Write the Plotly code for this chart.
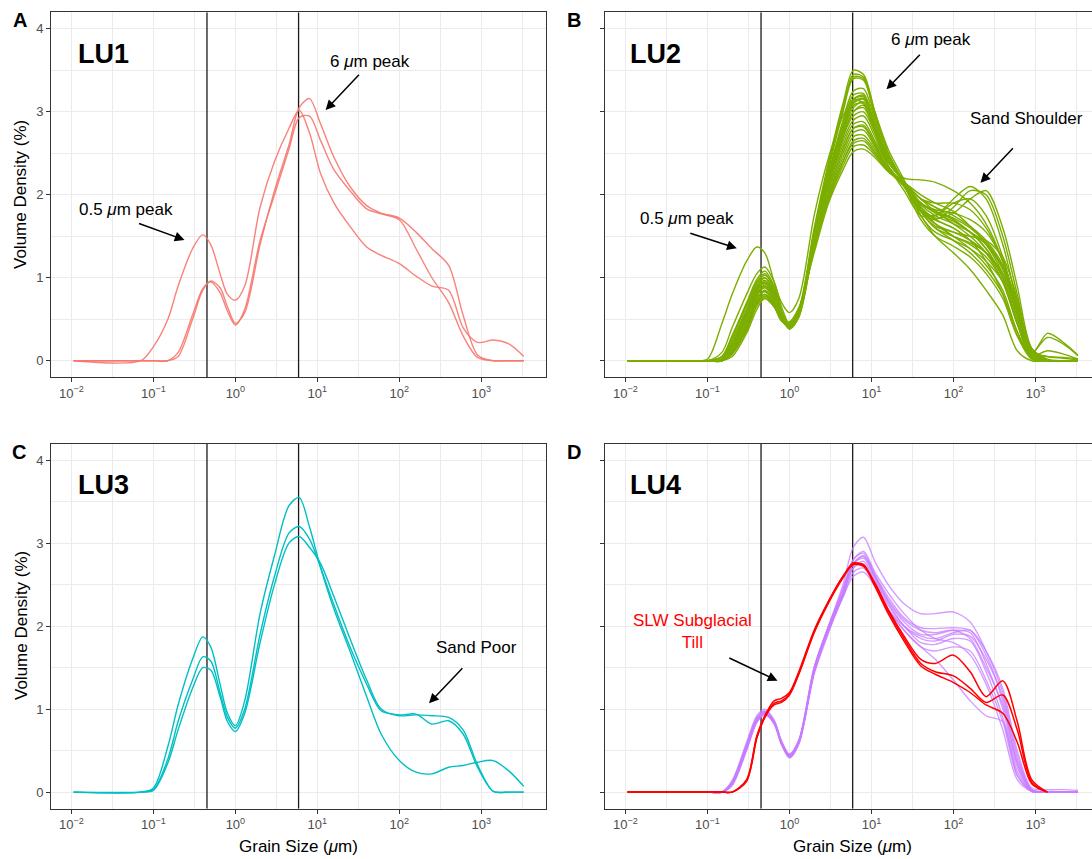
import plotly.graph_objects as go

# ---------------- data ----------------
grain_size = [0.0106, 0.07, 0.1, 0.15, 0.2, 0.3, 0.4, 0.5, 0.65, 0.8, 1.0, 1.3, 2, 3, 4.5, 6, 8, 11,
              16, 25, 40, 60, 100, 160, 250, 400, 600, 900, 1400, 2200, 3300]

lu1_curves = [
    [0, 0, 0.17, 0.5, 0.9, 1.35, 1.52, 1.4, 1.05, 0.8, 0.73, 0.9, 1.85, 2.4, 2.8, 3.02, 2.75, 2.25, 1.9, 1.62, 1.37, 1.27, 1.17, 1.02, 0.9, 0.85, 0.4, 0.22, 0.25, 0.2, 0.05],
    [0, 0, 0, 0, 0.05, 0.5, 0.85, 0.96, 0.88, 0.65, 0.45, 0.58, 1.4, 2.05, 2.6, 3.05, 3.16, 2.85, 2.45, 2.1, 1.87, 1.78, 1.72, 1.55, 1.35, 1.15, 0.55, 0.07, 0, 0, 0],
    [0, 0, 0, 0, 0.1, 0.55, 0.87, 0.95, 0.82, 0.6, 0.43, 0.62, 1.45, 2.0, 2.55, 2.93, 2.95, 2.65, 2.3, 2.05, 1.83, 1.77, 1.7, 1.35, 1.0, 0.7, 0.3, 0.04, 0, 0, 0],
]

lu2_curves = [
    [0, 0, 0.02, 0.45, 0.8, 1.2, 1.37, 1.3, 0.95, 0.7, 0.58, 0.75, 1.75, 2.45, 2.95, 3.15, 3.1, 2.8, 2.45, 2.15, 1.95, 1.85, 1.75, 1.62, 1.45, 1.15, 0.55, 0.05, 0, 0, 0],
    [0, 0, 0, 0.1, 0.4, 0.8, 1.05, 1.13, 0.95, 0.65, 0.45, 0.62, 1.6, 2.4, 3.1, 3.5, 3.45, 3.0, 2.5, 2.15, 1.85, 1.7, 1.6, 1.45, 1.3, 1.05, 0.55, 0.05, 0, 0, 0],
    [0, 0, 0, 0.05, 0.3, 0.7, 0.98, 1.08, 0.9, 0.6, 0.42, 0.58, 1.55, 2.35, 3.05, 3.45, 3.42, 3.0, 2.55, 2.18, 1.75, 1.55, 1.45, 1.35, 1.2, 0.95, 0.45, 0.03, 0, 0, 0],
    [0, 0, 0, 0.05, 0.3, 0.68, 0.95, 1.05, 0.88, 0.6, 0.41, 0.57, 1.5, 2.3, 3.0, 3.4, 3.38, 2.95, 2.5, 2.12, 1.7, 1.5, 1.38, 1.25, 1.05, 0.75, 0.3, 0.08, 0.33, 0.22, 0.07],
    [0, 0, 0, 0, 0.2, 0.6, 0.88, 0.97, 0.82, 0.55, 0.4, 0.55, 1.5, 2.25, 2.85, 3.2, 3.22, 2.85, 2.45, 2.15, 1.9, 1.8, 1.72, 1.6, 1.42, 1.12, 0.6, 0.08, 0, 0, 0],
    [0, 0, 0, 0, 0.18, 0.55, 0.85, 0.95, 0.8, 0.55, 0.4, 0.55, 1.45, 2.2, 2.8, 3.15, 3.18, 2.8, 2.35, 2.05, 1.75, 1.75, 1.95, 2.1, 1.95, 1.4, 0.7, 0.1, 0, 0, 0],
    [0, 0, 0, 0, 0.2, 0.58, 0.85, 0.93, 0.78, 0.52, 0.38, 0.52, 1.4, 2.15, 2.75, 3.08, 3.1, 2.75, 2.35, 2.1, 1.8, 1.7, 1.85, 2.05, 2.0, 1.5, 0.8, 0.12, 0, 0, 0],
    [0, 0, 0, 0, 0.15, 0.5, 0.8, 0.9, 0.76, 0.52, 0.39, 0.53, 1.4, 2.1, 2.7, 3.0, 3.05, 2.75, 2.4, 2.2, 2.18, 2.15, 2.05, 1.9, 1.65, 1.2, 0.6, 0.08, 0, 0, 0],
    [0, 0, 0, 0, 0.15, 0.5, 0.78, 0.88, 0.74, 0.5, 0.4, 0.55, 1.4, 2.1, 2.65, 2.9, 2.95, 2.7, 2.35, 2.12, 1.85, 1.65, 1.5, 1.35, 1.15, 0.85, 0.35, 0.03, 0, 0, 0],
    [0, 0, 0, 0, 0.12, 0.45, 0.75, 0.85, 0.72, 0.5, 0.41, 0.57, 1.45, 2.1, 2.6, 2.85, 2.88, 2.65, 2.35, 2.1, 1.8, 1.6, 1.45, 1.3, 1.1, 0.8, 0.35, 0.06, 0.12, 0.08, 0.02],
    [0, 0, 0, 0, 0.12, 0.45, 0.75, 0.83, 0.7, 0.49, 0.41, 0.57, 1.42, 2.05, 2.55, 2.8, 2.82, 2.6, 2.3, 2.1, 1.8, 1.75, 1.9, 1.95, 1.75, 1.25, 0.6, 0.1, 0, 0, 0],
    [0, 0, 0, 0, 0.1, 0.42, 0.72, 0.8, 0.68, 0.48, 0.42, 0.58, 1.4, 2.0, 2.5, 2.75, 2.78, 2.58, 2.3, 2.15, 1.95, 1.8, 1.65, 1.5, 1.3, 0.95, 0.45, 0.05, 0, 0, 0],
    [0, 0, 0, 0, 0.1, 0.4, 0.7, 0.8, 0.68, 0.48, 0.43, 0.6, 1.38, 1.98, 2.45, 2.7, 2.72, 2.55, 2.3, 2.12, 1.85, 1.7, 1.6, 1.45, 1.2, 0.8, 0.3, 0.02, 0, 0, 0],
    [0, 0, 0, 0, 0.08, 0.38, 0.68, 0.78, 0.66, 0.48, 0.44, 0.6, 1.35, 1.95, 2.4, 2.65, 2.68, 2.52, 2.3, 2.1, 1.75, 1.5, 1.3, 1.1, 0.85, 0.55, 0.12, 0, 0, 0, 0],
    [0, 0, 0, 0, 0.08, 0.36, 0.66, 0.76, 0.65, 0.48, 0.45, 0.62, 1.35, 1.93, 2.35, 2.58, 2.6, 2.48, 2.28, 2.12, 1.95, 1.85, 1.7, 1.55, 1.35, 1.0, 0.5, 0.08, 0, 0, 0],
    [0, 0, 0, 0, 0.05, 0.33, 0.62, 0.75, 0.65, 0.5, 0.47, 0.64, 1.3, 1.9, 2.3, 2.52, 2.55, 2.45, 2.28, 2.15, 2.0, 1.9, 1.8, 1.62, 1.4, 1.05, 0.55, 0.1, 0.05, 0.04, 0.02],
    [0, 0, 0, 0.03, 0.25, 0.62, 0.9, 1.0, 0.85, 0.57, 0.4, 0.56, 1.5, 2.25, 2.85, 3.15, 3.2, 2.85, 2.45, 2.15, 1.85, 1.65, 1.5, 1.4, 1.25, 0.95, 0.45, 0.1, 0.28, 0.2, 0.06],
    [0, 0, 0, 0, 0.18, 0.55, 0.82, 0.9, 0.76, 0.52, 0.39, 0.54, 1.45, 2.2, 2.75, 3.05, 3.12, 2.8, 2.4, 2.15, 1.85, 1.72, 1.78, 1.95, 2.05, 1.6, 0.9, 0.15, 0, 0, 0],
    [0, 0, 0, 0, 0.15, 0.5, 0.8, 0.9, 0.76, 0.52, 0.4, 0.56, 1.45, 2.15, 2.7, 2.95, 3.0, 2.75, 2.4, 2.15, 1.9, 1.8, 1.7, 1.55, 1.4, 1.1, 0.65, 0.12, 0, 0, 0],
    [0, 0, 0, 0.05, 0.28, 0.66, 0.93, 1.03, 0.88, 0.6, 0.43, 0.6, 1.55, 2.35, 3.05, 3.42, 3.4, 2.95, 2.5, 2.15, 1.8, 1.62, 1.55, 1.45, 1.3, 1.0, 0.45, 0.05, 0, 0, 0],
    [0, 0, 0, 0, 0.2, 0.6, 0.87, 0.95, 0.8, 0.54, 0.4, 0.56, 1.5, 2.25, 2.8, 3.1, 3.15, 2.85, 2.45, 2.15, 1.8, 1.6, 1.5, 1.42, 1.3, 1.05, 0.6, 0.1, 0, 0, 0],
    [0, 0, 0, 0, 0.1, 0.4, 0.7, 0.8, 0.68, 0.5, 0.44, 0.6, 1.35, 1.95, 2.4, 2.62, 2.65, 2.5, 2.3, 2.15, 1.95, 1.9, 1.9, 1.82, 1.6, 1.2, 0.7, 0.15, 0.02, 0, 0],
    [0, 0, 0, 0, 0.15, 0.52, 0.8, 0.9, 0.77, 0.53, 0.41, 0.57, 1.45, 2.15, 2.7, 3.0, 3.08, 2.8, 2.4, 2.15, 1.88, 1.75, 1.65, 1.55, 1.42, 1.12, 0.55, 0.06, 0, 0, 0],
    [0, 0, 0, 0.02, 0.22, 0.6, 0.9, 1.0, 0.84, 0.57, 0.41, 0.57, 1.5, 2.25, 2.9, 3.25, 3.28, 2.9, 2.45, 2.15, 1.9, 1.78, 1.68, 1.55, 1.35, 1.0, 0.45, 0.04, 0, 0, 0],
    [0, 0, 0, 0, 0.12, 0.45, 0.74, 0.84, 0.71, 0.5, 0.42, 0.58, 1.42, 2.05, 2.55, 2.8, 2.84, 2.62, 2.32, 2.12, 1.9, 1.82, 1.78, 1.7, 1.55, 1.2, 0.65, 0.12, 0, 0, 0],
    [0, 0, 0, 0, 0.18, 0.56, 0.84, 0.93, 0.79, 0.54, 0.4, 0.55, 1.47, 2.2, 2.78, 3.12, 3.16, 2.82, 2.42, 2.15, 1.82, 1.65, 1.55, 1.5, 1.45, 1.25, 0.75, 0.12, 0.05, 0.03, 0.01],
]

lu3_curves = [
    [0, 0, 0.05, 0.55, 1.05, 1.6, 1.87, 1.75, 1.3, 0.95, 0.8, 1.1, 2.15, 2.85, 3.45, 3.55, 3.2, 2.7, 2.2, 1.7, 1.15, 0.7, 0.38, 0.24, 0.22, 0.3, 0.32, 0.36, 0.38, 0.25, 0.07],
    [0, 0, 0.03, 0.4, 0.85, 1.35, 1.63, 1.58, 1.2, 0.9, 0.77, 1.0, 1.9, 2.6, 3.12, 3.2, 3.05, 2.7, 2.25, 1.75, 1.3, 0.98, 0.93, 0.94, 0.82, 0.86, 0.7, 0.3, 0.01, 0, 0],
    [0, 0, 0.02, 0.35, 0.75, 1.25, 1.5, 1.47, 1.15, 0.85, 0.73, 0.95, 1.8, 2.5, 3.0, 3.08, 2.95, 2.75, 2.35, 1.85, 1.35, 1.0, 0.92, 0.93, 0.92, 0.9, 0.75, 0.33, 0.01, 0, 0],
]

lu4_curves = [
    [0, 0, 0, 0, 0.1, 0.52, 0.85, 0.95, 0.85, 0.6, 0.45, 0.62, 1.45, 2.0, 2.5, 2.95, 3.07, 2.78, 2.5, 2.27, 2.15, 2.15, 2.17, 2.05, 1.7, 1.2, 0.45, 0.03, 0, 0, 0],
    [0, 0, 0, 0, 0.12, 0.56, 0.88, 0.97, 0.85, 0.6, 0.44, 0.6, 1.5, 2.0, 2.45, 2.8, 2.88, 2.62, 2.35, 2.1, 1.98, 1.97, 1.98, 1.95, 1.65, 1.1, 0.35, 0.02, 0, 0, 0],
    [0, 0, 0, 0, 0.1, 0.54, 0.86, 0.95, 0.83, 0.58, 0.42, 0.58, 1.45, 1.95, 2.4, 2.75, 2.85, 2.6, 2.3, 2.05, 1.9, 1.9, 1.95, 1.92, 1.55, 1.0, 0.3, 0.02, 0, 0, 0],
    [0, 0, 0, 0, 0.12, 0.58, 0.9, 0.98, 0.85, 0.6, 0.45, 0.62, 1.5, 2.0, 2.4, 2.75, 2.82, 2.58, 2.28, 2.0, 1.85, 1.82, 1.9, 1.88, 1.6, 1.15, 0.4, 0.03, 0, 0, 0],
    [0, 0, 0, 0, 0.08, 0.5, 0.84, 0.93, 0.82, 0.57, 0.43, 0.6, 1.45, 1.95, 2.38, 2.7, 2.78, 2.55, 2.25, 2.0, 1.8, 1.78, 1.85, 1.82, 1.45, 0.9, 0.25, 0.01, 0, 0, 0],
    [0, 0, 0, 0, 0.14, 0.6, 0.92, 1.0, 0.87, 0.62, 0.46, 0.63, 1.5, 1.98, 2.4, 2.7, 2.75, 2.52, 2.2, 1.95, 1.75, 1.7, 1.75, 1.7, 1.35, 0.85, 0.2, 0.01, 0, 0, 0],
    [0, 0, 0, 0, 0.1, 0.54, 0.86, 0.95, 0.83, 0.58, 0.42, 0.6, 1.45, 1.95, 2.35, 2.65, 2.7, 2.5, 2.2, 1.95, 1.75, 1.6, 1.35, 1.1, 0.92, 0.85, 0.2, 0.01, 0, 0, 0],
    [0, 0, 0, 0, 0.12, 0.56, 0.88, 0.96, 0.84, 0.6, 0.44, 0.6, 1.45, 1.95, 2.35, 2.6, 2.65, 2.48, 2.2, 2.0, 1.88, 1.85, 1.92, 1.95, 1.7, 1.25, 0.5, 0.05, 0.03, 0.03, 0.02],
    [0, 0, 0, 0, 0.09, 0.52, 0.85, 0.94, 0.83, 0.58, 0.41, 0.58, 1.42, 1.92, 2.38, 2.75, 2.84, 2.6, 2.32, 2.08, 1.95, 1.92, 1.95, 1.85, 1.5, 1.05, 0.35, 0.02, 0, 0, 0],
    [0, 0, 0, 0, 0.11, 0.56, 0.88, 0.97, 0.85, 0.6, 0.43, 0.6, 1.48, 2.0, 2.45, 2.8, 2.9, 2.65, 2.4, 2.15, 1.95, 1.85, 1.8, 1.65, 1.3, 0.75, 0.15, 0.01, 0, 0, 0],
]

till_curves = [
    [0, 0, 0, 0, 0, 0.15, 0.68, 0.92, 1.1, 1.13, 1.2, 1.45, 1.95, 2.3, 2.6, 2.74, 2.72, 2.52, 2.2, 1.88, 1.6, 1.55, 1.65, 1.45, 1.15, 1.34, 0.85, 0.15, 0, None, None],
    [0, 0, 0, 0, 0, 0.13, 0.65, 0.9, 1.05, 1.08, 1.17, 1.42, 1.92, 2.28, 2.58, 2.75, 2.74, 2.5, 2.18, 1.85, 1.55, 1.45, 1.4, 1.25, 1.08, 1.17, 0.75, 0.12, 0, None, None],
    [0, 0, 0, 0, 0, 0.14, 0.66, 0.9, 1.07, 1.1, 1.18, 1.43, 1.93, 2.3, 2.6, 2.76, 2.73, 2.48, 2.15, 1.82, 1.52, 1.42, 1.32, 1.2, 1.05, 0.95, 0.6, 0.1, 0, None, None],
]

peak_lines = [0.45, 5.9]
x_ticks = [0.01, 0.1, 1, 10, 100, 1000]
x_ticktext = ["10<sup>\u22122</sup>", "10<sup>\u22121</sup>", "10<sup>0</sup>",
              "10<sup>1</sup>", "10<sup>2</sup>", "10<sup>3</sup>"]
x_minor = [0.0316, 0.316, 3.16, 31.6, 316, 3162]
y_ticks = [0, 1, 2, 3, 4]
y_minor = [0.5, 1.5, 2.5, 3.5]

# ---------------- figure ----------------
W, H = 1092, 859
FONT = "Liberation Sans, Arial, Helvetica, sans-serif"
SMOOTH = 0.85

def px(x):
    return x / W

def py(y):
    return 1 - y / H

fig = go.Figure()

panels = [
    ("x", "y", lu1_curves, "#F8766D", 0.9),
    ("x2", "y2", lu2_curves, "#7CAE00", 1.0),
    ("x3", "y3", lu3_curves, "#00BFC4", 1.0),
    ("x4", "y4", lu4_curves, "#C77CFF", 0.75),
]

for xa, ya, curves, col, op in panels:
    for xv in peak_lines:
        fig.add_trace(go.Scatter(x=[xv, xv], y=[-0.2, 4.2], mode="lines",
                                 line=dict(color="#1a1a1a", width=1.3),
                                 xaxis=xa, yaxis=ya, showlegend=False, hoverinfo="skip"))
    for c in curves:
        fig.add_trace(go.Scatter(x=grain_size, y=c, mode="lines", opacity=op,
                                 line=dict(color=col, width=1.4, shape="spline", smoothing=SMOOTH),
                                 xaxis=xa, yaxis=ya, showlegend=False))

for c in till_curves:
    fig.add_trace(go.Scatter(x=grain_size, y=c, mode="lines",
                             line=dict(color="#FF0000", width=1.5, shape="spline", smoothing=SMOOTH),
                             xaxis="x4", yaxis="y4", showlegend=False))

x_dom_left = [px(51), px(546)]
x_dom_right = [px(605), 1.0]
y_dom_top = [py(377.3), py(12.3)]
y_dom_bot = [py(808.7), py(443.5)]

def xaxis_cfg(domain, rng, anchor, mirror):
    return dict(type="log", domain=domain, range=rng, anchor=anchor,
                tickvals=x_ticks, ticktext=x_ticktext, ticks="outside", ticklen=4,
                tickwidth=1, tickcolor="#333333",
                tickfont=dict(size=13, color="#4D4D4D", family=FONT),
                showgrid=True, gridcolor="#EBEBEB", gridwidth=1.2,
                minor=dict(tickvals=x_minor, showgrid=True, gridcolor="#EBEBEB",
                           gridwidth=0.6, ticks=""),
                zeroline=False, showline=True, linecolor="#333333", linewidth=1,
                mirror=mirror, automargin=False)

def yaxis_cfg(domain, anchor, labels, mirror):
    return dict(domain=domain, range=[-0.2, 4.2], anchor=anchor,
                tickvals=y_ticks, ticks="outside", ticklen=4, tickwidth=1,
                tickcolor="#333333", showticklabels=labels,
                tickfont=dict(size=13, color="#4D4D4D", family=FONT),
                showgrid=True, gridcolor="#EBEBEB", gridwidth=1.2,
                minor=dict(tickvals=y_minor, showgrid=True, gridcolor="#EBEBEB",
                           gridwidth=0.6, ticks=""),
                zeroline=False, showline=True, linecolor="#333333", linewidth=1,
                mirror=mirror, automargin=False)

rng_left = [-2.25, 3.79]
rng_right = [-2.25, 3.69]

fig.update_layout(
    width=W, height=H,
    margin=dict(l=0, r=0, t=0, b=0),
    paper_bgcolor="white", plot_bgcolor="white",
    font=dict(family=FONT, color="black"),
    xaxis=xaxis_cfg(x_dom_left, rng_left, "y", True),
    xaxis2=xaxis_cfg(x_dom_right, rng_right, "y2", True),
    xaxis3=xaxis_cfg(x_dom_left, rng_left, "y3", True),
    xaxis4=xaxis_cfg(x_dom_right, rng_right, "y4", True),
    yaxis=yaxis_cfg(y_dom_top, "x", True, True),
    yaxis2=yaxis_cfg(y_dom_top, "x2", False, False),
    yaxis3=yaxis_cfg(y_dom_bot, "x3", True, True),
    yaxis4=yaxis_cfg(y_dom_bot, "x4", False, False),
    showlegend=False,
)

ann = []

def text(x, y, t, size=17, color="black", bold=False, xanchor="center", angle=0):
    if bold:
        t = "<b>" + t + "</b>"
    ann.append(dict(x=px(x), y=py(y), xref="paper", yref="paper", text=t,
                    showarrow=False, xanchor=xanchor, yanchor="middle", textangle=angle,
                    font=dict(size=size, color=color, family=FONT)))

def arrow(hx, hy, tx, ty):
    ann.append(dict(x=px(hx), y=py(hy), xref="paper", yref="paper", text="",
                    showarrow=True, ax=tx - hx, ay=ty - hy, axref="pixel", ayref="pixel",
                    arrowhead=2, arrowsize=1.3, arrowwidth=1.5, arrowcolor="black",
                    standoff=0, startstandoff=0))

# panel letters
text(20, 20, "A", size=20, bold=True)
text(574, 20, "B", size=20, bold=True)
text(19, 452, "C", size=20, bold=True)
text(574, 452, "D", size=20, bold=True)

# LU labels
text(76, 54, "LU1", size=27, bold=True, xanchor="left")
text(628, 54, "LU2", size=27, bold=True, xanchor="left")
text(76, 485, "LU3", size=27, bold=True, xanchor="left")
text(628, 485, "LU4", size=27, bold=True, xanchor="left")

# axis titles
text(21, 195, "Volume Density (%)", size=17, angle=-90)
text(21, 626, "Volume Density (%)", size=17, angle=-90)
text(298.5, 846, "Grain Size (<i>\u03bc</i>m)", size=17)
text(852, 846, "Grain Size (<i>\u03bc</i>m)", size=17)

# panel A annotations
text(126, 209, "0.5 <i>\u03bc</i>m peak")
arrow(184.5, 240, 137.5, 223)
text(370, 61, "6 <i>\u03bc</i>m peak")
arrow(325.6, 110, 360.4, 73.3)

# panel B annotations
text(931, 39.5, "6 <i>\u03bc</i>m peak")
arrow(886.5, 89.3, 921.3, 53.3)
text(1026, 118.5, "Sand Shoulder")
arrow(980.5, 182.7, 1014.3, 146.7)
text(687, 218.5, "0.5 <i>\u03bc</i>m peak")
arrow(736.8, 248.3, 688.8, 232.7)

# panel C annotations
text(476, 647, "Sand Poor")
arrow(429, 703.3, 463.8, 666.7)

# panel D annotations
text(692, 631, "SLW Subglacial<br>Till", color="#FF0000")
arrow(777.5, 680.7, 727.8, 657.3)

fig.update_layout(annotations=ann)

fig.write_html("out.html")
